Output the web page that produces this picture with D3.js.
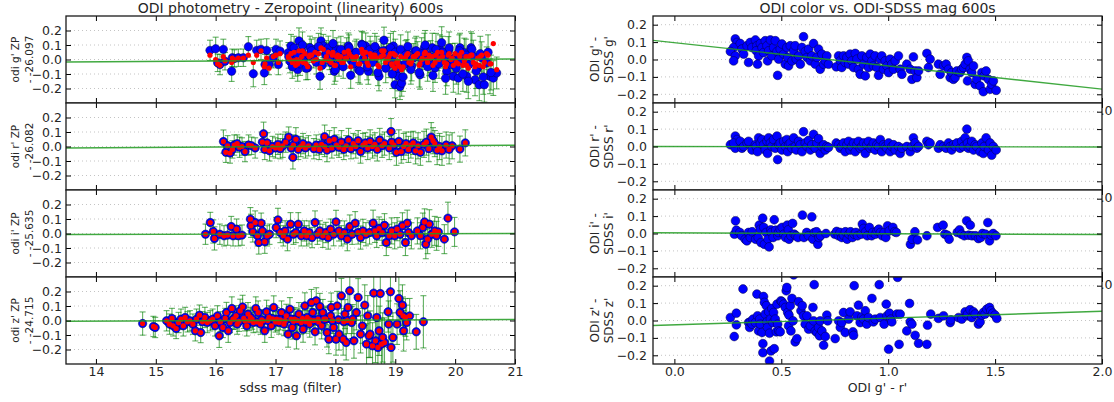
<!DOCTYPE html>
<html>
<head>
<meta charset="utf-8">
<script src="https://cdn.jsdelivr.net/npm/d3@7"></script>
<style>
  html, body { margin: 0; padding: 0; background: #fff; }
  svg { display: block; }
  text { font-family: "DejaVu Sans", sans-serif; }
</style>
</head>
<body>
<svg id="chart" width="1114" height="402"></svg>
<script>
// ---------------- data ----------------
const bands = ["g'", "r'", "i'", "z'"];
const zpOffsets = ["-26.097", "-26.082", "-25.635", "-24.715"];
const magTicks = [14, 15, 16, 17, 18, 19, 20, 21];
const colorTicks = [0.0, 0.5, 1.0, 1.5, 2.0];
const residTicks = [-0.2, -0.1, 0.0, 0.1, 0.2];

// linear fits (value at left and right edge of each axis)
const zpFitStart = [-0.017, -0.010, -0.007, -0.005];
const zpFitEnd = [0.004, 0.009, 0.000, 0.007];
const colorFitStart = [0.110, 0.000, 0.004, -0.029];
const colorFitEnd = [-0.170, -0.003, -0.006, 0.053];

// g' zeropoint residuals vs sdss mag
const gMag = [15.905,16.000,16.033,16.128,16.072,16.156,16.267,16.278,16.312,16.379,
16.462,16.546,16.629,16.685,16.757,16.813,16.824,16.852,16.891,16.963,
17.008,17.047,17.075,17.214,17.242,17.258,17.297,17.336,17.370,17.392,
17.437,17.464,17.492,17.537,17.576,17.631,17.659,17.743,17.759,17.798,
17.837,17.882,17.927,17.949,17.982,18.021,18.060,18.105,18.149,18.188,
18.216,18.255,18.272,18.327,18.383,18.439,18.467,18.506,18.550,18.595,
18.634,18.689,18.728,18.773,18.812,18.856,18.895,18.940,18.968,18.996,
19.023,19.051,19.079,19.107,19.151,19.190,19.229,19.274,19.330,19.374,
19.413,19.452,19.486,19.525,19.563,19.619,19.664,19.708,19.747,19.775,
19.820,19.859,19.886,19.931,19.970,19.998,20.053,20.081,20.109,20.154,
20.193,20.232,20.265,20.304,20.332,20.376,20.404,20.443,20.488,20.527,
20.582,20.638,20.694,
17.22,17.28,17.31,17.35,17.41,17.45,17.51,17.56,17.60,17.68,
17.72,17.78,17.85,17.90,17.96,18.00,18.04,18.09,18.13,18.17,
18.23,18.30,18.35,18.41,18.45,18.49,18.53,18.58,18.62,18.66,
18.71,18.76,18.80,18.84,18.88,18.92,18.95,19.00,19.04,19.09,
19.13,19.17,19.21,19.26,19.30,19.35,19.40,19.44,19.50,19.54,
19.59,19.63,19.68,19.73,19.79,19.84,19.90,19.95,20.02,20.07,
20.13,20.18,20.22,20.28,20.35,20.42,20.47,20.55,20.60];
const gZp = [0.063,0.074,-0.023,0.070,-0.035,-0.012,-0.081,0.012,0.007,0.012,
0.012,0.088,-0.098,0.063,0.070,-0.093,-0.035,0.063,-0.035,0.012,
0.070,-0.035,0.058,0.047,-0.012,0.093,0.023,-0.035,-0.070,0.128,
0.058,0.000,0.023,-0.058,0.081,0.012,0.070,-0.116,0.128,0.093,
0.035,0.081,-0.023,0.012,-0.081,0.070,-0.035,0.012,0.035,0.070,
0.093,-0.109,-0.012,0.047,-0.070,0.105,0.000,0.093,-0.081,0.047,
-0.012,0.070,-0.116,0.035,0.133,0.063,-0.035,0.012,0.093,-0.174,
-0.070,-0.116,-0.186,-0.163,-0.035,0.047,0.012,-0.047,0.058,0.023,
-0.105,-0.023,0.081,0.035,-0.012,0.081,-0.058,0.023,0.070,0.116,
0.000,-0.081,0.058,-0.035,-0.116,0.012,-0.128,0.081,-0.012,0.047,
-0.116,-0.035,0.081,0.023,-0.140,-0.058,-0.174,0.012,-0.174,-0.023,
-0.116,-0.128,-0.093,
0.02,-0.05,0.08,0.04,-0.03,0.10,-0.06,0.03,0.06,-0.02,
0.09,-0.04,0.05,0.01,0.11,-0.07,0.04,0.07,-0.05,0.02,
0.08,-0.03,0.05,-0.08,0.10,0.03,-0.05,0.07,-0.02,0.09,
-0.09,0.04,0.06,-0.06,0.02,0.08,-0.10,0.05,-0.03,0.07,
-0.12,0.03,0.09,-0.07,0.01,0.06,-0.09,0.04,0.10,-0.05,
0.02,-0.11,0.07,-0.03,0.05,-0.13,0.08,0.00,-0.06,0.06,
-0.10,0.03,-0.15,0.07,-0.08,0.04,-0.12,0.05,-0.09];
const gZpCorr = [0.03,0.00,-0.03,0.02,-0.04,-0.01,-0.02,0.01,0.00,0.01,
0.01,0.03,-0.02,0.03,0.06,-0.05,-0.03,0.01,-0.06,0.02,
0.03,-0.02,0.04,0.02,0.00,0.04,-0.01,-0.04,-0.03,0.06,
0.02,-0.02,0.04,-0.05,0.03,-0.01,0.05,-0.06,0.08,0.07,
0.00,0.05,-0.02,0.03,-0.04,0.02,0.00,-0.02,0.05,0.01,
0.06,-0.05,0.02,0.00,-0.03,0.07,0.04,0.05,-0.04,0.02,
0.03,0.01,-0.05,0.06,0.06,0.00,0.02,-0.03,0.04,-0.06,
-0.02,-0.04,-0.05,-0.07,0.01,0.03,-0.02,-0.01,0.02,0.04,
-0.03,0.01,0.04,0.00,0.03,0.02,-0.02,0.05,0.01,0.05,
-0.02,-0.03,0.03,0.00,-0.04,0.04,-0.03,0.02,0.05,-0.01,
-0.04,0.02,0.03,-0.02,-0.05,0.01,-0.04,0.03,-0.02,0.04,
-0.03,0.11,-0.07,
0.01,-0.02,0.05,0.00,-0.01,0.06,-0.03,0.02,0.03,0.00,
0.04,-0.02,0.02,-0.01,0.05,-0.04,0.03,0.02,-0.02,0.01,
0.04,0.00,0.02,-0.03,0.05,0.01,-0.02,0.04,0.01,0.03,
-0.04,0.02,0.03,-0.02,0.00,0.04,-0.04,0.03,-0.01,0.02,
-0.05,0.01,0.04,-0.03,0.02,0.03,-0.04,0.00,0.05,-0.02,
0.01,-0.04,0.03,0.00,0.02,-0.05,0.04,0.01,-0.02,0.03,
-0.04,0.02,-0.06,0.03,-0.03,0.02,-0.05,0.03,-0.03];
const gErr = [0.07,0.08,0.06,0.07,0.07,0.06,0.07,0.06,0.06,0.06,
0.06,0.07,0.09,0.07,0.07,0.08,0.07,0.08,0.07,0.07,
0.07,0.07,0.07,0.07,0.08,0.08,0.08,0.08,0.08,0.09,
0.07,0.08,0.08,0.08,0.08,0.07,0.08,0.09,0.09,0.08,
0.08,0.08,0.08,0.08,0.09,0.08,0.08,0.08,0.08,0.08,
0.09,0.09,0.08,0.08,0.09,0.09,0.08,0.09,0.09,0.08,
0.09,0.09,0.10,0.09,0.09,0.09,0.09,0.09,0.10,0.09,
0.09,0.10,0.09,0.09,0.09,0.09,0.09,0.10,0.09,0.10,
0.10,0.10,0.10,0.09,0.10,0.10,0.10,0.10,0.10,0.11,
0.10,0.10,0.10,0.10,0.11,0.10,0.11,0.10,0.11,0.10,
0.11,0.11,0.11,0.11,0.11,0.11,0.11,0.11,0.12,0.11,
0.12,0.12,0.11,
0.08,0.08,0.08,0.08,0.08,0.09,0.08,0.08,0.08,0.08,
0.09,0.08,0.08,0.08,0.09,0.08,0.08,0.09,0.08,0.08,
0.09,0.09,0.09,0.09,0.09,0.09,0.09,0.09,0.09,0.09,
0.09,0.10,0.09,0.10,0.09,0.10,0.10,0.09,0.10,0.10,
0.10,0.10,0.10,0.10,0.10,0.10,0.10,0.11,0.10,0.10,
0.11,0.11,0.11,0.10,0.11,0.11,0.11,0.11,0.11,0.11,
0.12,0.11,0.12,0.11,0.12,0.12,0.12,0.12,0.12];

// r' zeropoint residuals
const rMag = [16.13,16.17,16.20,16.24,16.28,16.31,16.36,16.40,16.44,16.49,
16.55,16.60,16.66,16.80,16.78,16.82,16.86,16.90,16.95,17.00,
17.04,17.08,17.12,17.17,17.29,17.22,17.26,17.30,17.34,17.38,
17.42,17.46,17.50,17.55,17.82,17.64,17.68,17.73,17.77,17.82,
17.86,17.90,17.94,17.98,18.02,18.06,18.10,18.14,18.18,18.22,
18.26,18.30,18.34,18.38,18.42,18.46,18.50,18.54,18.58,18.62,
18.66,18.70,18.74,18.78,18.82,18.93,18.90,18.94,18.98,19.02,
19.06,19.10,19.14,19.18,19.22,19.26,19.30,19.34,19.38,19.42,
19.48,19.52,19.56,19.60,19.63,19.66,19.70,19.74,19.78,19.85,
19.90,19.95,20.08,20.17];
const rZp = [0.034,-0.040,0.005,-0.045,-0.020,0.010,0.020,-0.005,0.000,-0.035,
0.010,0.005,-0.010,0.088,0.030,-0.020,0.025,-0.030,0.000,-0.010,
0.015,-0.015,0.005,0.030,-0.075,0.065,-0.010,0.010,0.050,-0.020,
0.000,0.020,-0.010,0.005,0.068,-0.015,0.010,-0.020,0.015,0.000,
-0.025,0.040,-0.010,0.050,0.010,-0.005,0.030,-0.020,0.005,0.045,
-0.015,0.020,0.000,0.040,-0.035,0.010,0.025,-0.010,0.035,0.000,
0.015,-0.020,0.045,0.005,0.020,0.103,-0.010,0.030,0.010,-0.040,
0.035,-0.035,0.000,0.020,-0.020,0.010,0.025,-0.030,0.005,-0.040,
0.015,0.030,-0.015,0.065,0.040,0.020,-0.025,0.000,-0.030,0.010,
-0.020,0.005,-0.018,0.025];
const rErr = [0.08,0.07,0.07,0.07,0.06,0.07,0.06,0.07,0.06,0.07,
0.07,0.06,0.07,0.08,0.07,0.07,0.07,0.07,0.07,0.07,
0.07,0.07,0.08,0.07,0.08,0.07,0.07,0.07,0.08,0.07,
0.07,0.07,0.07,0.07,0.08,0.07,0.07,0.07,0.07,0.07,
0.08,0.07,0.07,0.08,0.07,0.07,0.08,0.07,0.07,0.08,
0.07,0.07,0.08,0.07,0.08,0.08,0.07,0.08,0.08,0.08,
0.08,0.08,0.08,0.08,0.08,0.09,0.08,0.08,0.08,0.09,
0.08,0.08,0.09,0.08,0.09,0.09,0.08,0.09,0.09,0.09,
0.09,0.09,0.09,0.10,0.09,0.09,0.10,0.09,0.10,0.09,
0.10,0.09,0.09,0.09];

// i' zeropoint residuals
const iMag = [15.83,15.91,15.96,15.98,16.07,16.14,16.20,16.26,16.29,16.35,
16.38,16.44,16.58,16.59,16.62,16.66,16.70,16.72,16.76,16.78,
16.82,16.86,16.90,17.01,17.04,17.08,17.13,17.16,17.20,17.25,
17.30,17.34,17.38,17.43,17.48,17.52,17.56,17.61,17.66,17.70,
17.74,17.79,17.84,17.88,17.92,17.97,18.01,18.06,18.10,18.15,
18.20,18.24,18.28,18.33,18.38,18.42,18.46,18.51,18.57,18.63,
18.66,18.69,18.73,18.78,18.82,18.85,18.90,18.94,18.99,19.03,
19.08,19.12,19.17,19.20,19.22,19.27,19.37,19.42,19.46,19.49,
19.51,19.54,19.57,19.61,19.66,19.69,19.72,19.82,19.88,19.99];
const iZp = [-0.005,0.076,0.014,-0.034,-0.005,-0.016,-0.011,0.048,-0.016,0.030,
-0.016,-0.011,0.099,0.053,0.011,0.076,-0.016,-0.062,0.071,0.018,
-0.057,-0.016,-0.005,0.041,0.094,0.007,-0.016,0.018,-0.039,0.064,
-0.005,0.007,0.064,-0.016,0.018,-0.016,0.007,-0.028,0.076,-0.005,
0.018,-0.016,0.007,-0.028,0.030,-0.005,0.080,0.018,-0.016,0.007,
-0.039,0.048,-0.005,0.071,0.007,-0.028,0.018,-0.005,0.007,0.071,
0.018,-0.016,0.034,0.007,0.057,-0.062,-0.016,0.018,-0.016,0.030,
-0.005,0.053,-0.062,0.071,0.007,-0.016,0.018,-0.016,0.041,0.080,
-0.074,-0.039,0.064,-0.005,0.018,-0.016,0.011,-0.039,0.106,0.011];
const iErr = [0.07,0.07,0.08,0.08,0.07,0.07,0.07,0.07,0.07,0.07,
0.07,0.07,0.08,0.08,0.07,0.08,0.07,0.08,0.07,0.07,
0.08,0.07,0.07,0.07,0.08,0.07,0.07,0.07,0.08,0.08,
0.07,0.07,0.08,0.07,0.07,0.07,0.08,0.07,0.08,0.07,
0.07,0.08,0.07,0.08,0.07,0.08,0.08,0.07,0.07,0.08,
0.08,0.08,0.07,0.08,0.08,0.08,0.08,0.08,0.08,0.09,
0.08,0.08,0.08,0.09,0.08,0.09,0.08,0.09,0.09,0.08,
0.09,0.09,0.09,0.09,0.09,0.09,0.09,0.09,0.10,0.09,
0.10,0.10,0.10,0.09,0.10,0.10,0.10,0.10,0.11,0.10];

// z' zeropoint residuals
const zMag = [14.78,14.96,14.99,15.18,15.23,15.27,15.29,15.34,15.38,15.42,
15.46,15.49,15.53,15.57,15.62,15.66,15.68,15.73,15.75,15.78,
15.82,15.86,15.91,15.95,15.99,16.03,16.06,16.08,16.12,16.16,
16.18,16.21,16.24,16.27,16.29,16.34,16.36,16.41,16.45,16.49,
16.52,16.54,16.58,16.63,16.67,16.71,16.75,16.79,16.82,16.85,
16.89,16.93,16.97,17.02,17.06,17.10,17.14,17.18,17.21,17.24,
17.28,17.32,17.35,17.39,17.43,17.46,17.49,17.53,17.57,17.60,
17.62,17.66,17.68,17.71,17.74,17.77,17.79,17.84,17.86,17.89,
17.92,17.93,17.97,18.01,18.03,18.06,18.10,18.13,18.16,18.18,
18.21,18.24,18.27,18.31,18.35,18.38,18.42,18.45,18.49,18.52,
18.54,18.56,18.58,18.62,18.64,18.67,18.69,18.71,18.73,18.75,
18.77,18.79,18.82,18.88,18.89,18.92,18.93,18.96,19.03,19.06,
19.08,19.12,19.13,19.14,19.17,19.19,19.24,19.35,19.47,
16.31,16.39,16.47,16.56,16.61,16.69,16.77,16.87,16.95,17.00,
17.08,17.16,17.26,17.30,17.37,17.45,17.51,17.58,17.64,17.72,
17.81,17.95,18.05,18.14,18.20,18.29];
const zZp = [-0.021,-0.041,-0.048,-0.002,-0.025,0.014,-0.037,-0.055,-0.014,0.009,
-0.037,0.021,-0.009,-0.002,-0.025,-0.071,0.009,0.037,-0.083,-0.009,
0.021,-0.014,-0.002,0.009,-0.037,0.032,-0.106,-0.009,-0.048,0.014,
0.055,-0.071,-0.014,0.083,0.009,0.032,-0.025,0.067,0.094,-0.002,
-0.037,0.044,0.021,-0.014,0.083,0.055,-0.025,-0.002,-0.071,0.060,
0.021,-0.037,0.090,0.009,-0.014,0.055,-0.025,0.032,-0.094,0.078,
-0.048,0.009,-0.106,0.044,-0.014,-0.060,0.101,0.021,-0.025,0.124,
0.055,-0.078,0.136,0.009,0.097,-0.037,0.055,0.009,-0.083,-0.129,
0.032,0.090,-0.048,-0.129,0.101,-0.094,0.170,-0.129,0.044,-0.152,
0.090,0.205,-0.014,-0.140,0.055,0.159,-0.094,-0.037,0.106,-0.163,
0.032,-0.106,-0.094,-0.175,0.189,-0.140,0.021,-0.186,-0.071,0.186,
-0.163,-0.117,-0.152,0.060,-0.025,0.198,-0.186,-0.117,-0.025,0.152,
0.055,0.106,0.032,-0.071,0.021,-0.014,0.032,-0.078,-0.009,
0.010,-0.005,0.015,0.000,0.010,-0.010,0.005,0.000,0.012,-0.010,
0.005,0.000,0.010,-0.005,0.000,0.015,-0.008,0.005,0.000,-0.010,
0.010,0.000,0.005,-0.008,0.000,0.010];
const zErr = [0.08,0.07,0.07,0.07,0.07,0.07,0.07,0.07,0.07,0.07,
0.07,0.07,0.07,0.07,0.07,0.07,0.07,0.07,0.07,0.07,
0.07,0.07,0.07,0.07,0.07,0.07,0.08,0.07,0.07,0.07,
0.07,0.08,0.07,0.08,0.07,0.07,0.07,0.08,0.08,0.07,
0.07,0.08,0.07,0.07,0.08,0.08,0.07,0.07,0.08,0.08,
0.08,0.08,0.08,0.08,0.08,0.08,0.08,0.08,0.09,0.08,
0.08,0.08,0.09,0.08,0.08,0.09,0.09,0.08,0.09,0.09,
0.09,0.09,0.09,0.09,0.09,0.09,0.09,0.09,0.10,0.10,
0.10,0.10,0.10,0.11,0.10,0.11,0.12,0.11,0.10,0.12,
0.11,0.12,0.11,0.12,0.12,0.13,0.13,0.12,0.14,0.14,
0.14,0.15,0.16,0.16,0.17,0.15,0.17,0.18,0.17,0.18,
0.18,0.17,0.17,0.14,0.16,0.17,0.19,0.17,0.14,0.16,
0.15,0.14,0.13,0.14,0.13,0.12,0.12,0.12,0.18,
0.07,0.07,0.07,0.07,0.07,0.07,0.07,0.07,0.07,0.07,
0.07,0.07,0.08,0.08,0.08,0.08,0.08,0.08,0.08,0.08,
0.08,0.09,0.09,0.09,0.09,0.10];

// ODI g'-r' colour vs ODI-SDSS difference
const colorGR = [0.285,0.293,0.277,0.262,0.285,0.277,0.308,0.316,0.324,0.340,
0.355,0.363,0.347,0.379,0.386,0.383,0.394,0.389,0.402,0.410,
0.417,0.425,0.433,0.441,0.436,0.449,0.456,0.464,0.472,0.480,
0.483,0.488,0.495,0.503,0.511,0.519,0.526,0.530,0.534,0.542,
0.550,0.558,0.565,0.570,0.581,0.589,0.604,0.597,0.612,0.620,
0.628,0.636,0.643,0.651,0.659,0.667,0.674,0.682,0.690,0.698,
0.706,0.713,0.721,0.757,0.768,0.776,0.783,0.791,0.799,0.807,
0.815,0.822,0.830,0.838,0.846,0.854,0.861,0.869,0.877,0.885,
0.893,0.900,0.908,0.916,0.924,0.931,0.939,0.947,0.955,0.963,
0.970,0.978,0.986,0.994,1.002,1.009,1.017,1.025,1.033,1.048,
1.056,1.064,1.087,1.103,1.111,1.118,1.126,1.134,1.142,1.181,
1.188,1.196,1.235,1.243,1.259,1.271,1.282,1.290,1.297,1.305,
1.313,1.321,1.336,1.344,1.352,1.360,1.368,1.375,1.371,1.383,
1.391,1.399,1.407,1.414,1.430,1.438,1.445,1.449,1.458,1.469,
1.477,1.484,1.492,1.505];
const gDiff = [0.118,0.098,0.069,0.046,0.021,-0.008,0.092,0.060,0.031,0.079,
0.098,0.069,-0.017,0.112,0.079,0.050,0.021,-0.027,0.092,0.069,
0.040,0.108,0.079,0.050,-0.008,0.112,0.021,0.069,0.108,0.046,
-0.091,0.002,0.060,0.089,0.031,-0.027,0.069,0.012,-0.037,0.079,
-0.008,0.050,0.079,0.002,0.021,-0.027,0.131,0.069,0.046,0.012,
0.060,-0.008,0.021,0.092,-0.027,0.012,0.060,-0.056,0.031,-0.027,
-0.008,0.021,-0.027,-0.042,0.021,-0.008,-0.046,0.021,-0.017,0.012,
-0.027,0.031,-0.008,-0.046,0.035,0.002,-0.056,-0.085,0.021,-0.027,
-0.094,0.012,-0.046,0.031,-0.008,-0.037,0.021,-0.046,-0.091,0.002,
0.021,-0.056,-0.008,-0.037,-0.075,0.002,-0.027,-0.056,-0.008,0.021,
-0.056,-0.085,-0.027,-0.056,-0.114,0.015,-0.066,-0.104,-0.066,0.035,
-0.046,0.002,-0.027,-0.085,-0.037,-0.027,-0.056,-0.104,-0.075,-0.114,
-0.104,-0.066,-0.075,-0.056,-0.046,-0.027,0.012,-0.008,-0.123,-0.056,
-0.075,-0.037,-0.143,-0.114,-0.152,-0.075,-0.185,-0.094,-0.066,-0.114,
-0.171,-0.143,-0.123,-0.177];
const rDiff = [0.06,0.04,0.01,0.01,-0.01,0.02,0.03,-0.01,0.00,0.02,
0.01,-0.02,0.03,0.01,-0.01,0.00,0.05,-0.03,0.02,0.04,
0.01,-0.02,0.03,0.05,-0.04,0.02,0.00,0.04,-0.01,0.06,
-0.075,0.01,0.02,-0.02,0.03,0.00,0.04,-0.03,0.01,0.02,
-0.01,0.05,0.00,-0.02,0.03,0.01,0.085,-0.03,0.02,0.00,
0.035,-0.02,0.01,0.07,-0.01,0.02,0.045,-0.04,0.00,0.01,
-0.02,0.00,-0.005,0.02,0.01,-0.01,0.00,0.02,-0.03,0.01,
0.03,-0.02,0.00,0.02,-0.03,0.01,0.03,-0.01,0.00,0.02,
-0.04,0.01,0.03,-0.01,0.00,0.02,-0.02,0.01,0.00,0.04,
-0.03,0.01,0.00,-0.01,0.02,-0.03,0.00,0.01,-0.02,0.00,
-0.04,-0.01,0.00,-0.03,0.00,0.05,0.02,-0.01,0.00,0.03,
0.01,0.02,-0.01,0.01,0.00,-0.01,0.02,0.00,-0.02,0.01,
0.00,0.02,-0.01,0.03,0.00,0.05,0.10,-0.01,0.02,0.00,
0.03,-0.02,0.01,0.00,-0.03,0.02,-0.04,0.00,0.05,-0.02,
0.02,-0.05,0.00,-0.02];
const iColor = [0.281,0.286,0.290,0.306,0.314,0.331,0.339,0.347,0.355,0.364,
0.380,0.392,0.397,0.402,0.405,0.413,0.418,0.421,0.429,0.438,
0.443,0.451,0.454,0.462,0.467,0.474,0.484,0.487,0.495,0.504,
0.512,0.520,0.528,0.533,0.536,0.545,0.553,0.561,0.569,0.578,
0.599,0.606,0.619,0.627,0.643,0.648,0.655,0.665,0.671,0.676,
0.684,0.709,0.750,0.759,0.767,0.775,0.783,0.791,0.800,0.808,
0.816,0.824,0.833,0.841,0.849,0.857,0.874,0.879,0.885,0.895,
0.902,0.912,0.923,0.928,0.940,0.948,0.956,0.964,0.972,0.981,
0.989,0.997,1.005,1.022,1.030,1.038,1.104,1.112,1.125,1.137,
1.181,1.231,1.257,1.265,1.277,1.285,1.323,1.334,1.343,1.356,
1.367,1.376,1.384,1.392,1.408,1.422,1.433,1.441,1.455,1.466,
1.474,1.482,1.491,1.504];
const iDiff = [-0.004,0.073,0.019,0.006,-0.013,-0.033,-0.042,0.006,-0.023,0.010,
-0.033,-0.023,0.048,0.025,-0.052,0.088,0.035,-0.062,0.006,-0.033,
-0.077,0.021,0.006,-0.023,0.079,0.019,-0.013,0.006,0.025,0.035,
-0.004,-0.023,0.048,0.021,-0.033,-0.013,0.058,-0.004,-0.013,-0.023,
0.106,-0.023,0.006,-0.013,0.096,-0.033,0.006,0.010,-0.062,-0.023,
-0.013,0.000,-0.004,0.012,-0.013,0.006,-0.023,-0.010,0.010,-0.033,
-0.004,0.010,-0.023,-0.004,0.006,-0.013,-0.004,0.054,0.029,0.010,
-0.013,0.035,-0.013,0.006,-0.004,0.015,0.025,0.006,-0.013,0.006,
-0.023,0.044,0.015,0.035,0.010,0.006,-0.062,-0.033,0.010,-0.037,
-0.013,0.035,0.048,-0.004,-0.010,-0.033,0.006,0.021,-0.004,-0.013,
0.073,-0.010,0.048,-0.013,-0.013,-0.029,-0.023,0.000,-0.004,0.063,
-0.042,-0.010,0.000,-0.013];
const zColor = [0.262,0.290,0.280,0.290,0.321,0.347,0.352,0.355,0.363,0.368,
0.379,0.386,0.389,0.394,0.399,0.402,0.410,0.414,0.414,0.417,
0.421,0.425,0.430,0.433,0.436,0.441,0.445,0.445,0.449,0.452,
0.456,0.461,0.464,0.467,0.472,0.477,0.480,0.483,0.488,0.495,
0.498,0.503,0.511,0.519,0.523,0.526,0.530,0.534,0.536,0.542,
0.545,0.550,0.555,0.558,0.565,0.573,0.581,0.592,0.598,0.604,
0.612,0.620,0.628,0.636,0.648,0.651,0.654,0.659,0.667,0.674,
0.679,0.682,0.690,0.698,0.706,0.713,0.717,0.752,0.768,0.776,
0.783,0.791,0.799,0.815,0.822,0.835,0.838,0.841,0.854,0.861,
0.869,0.877,0.885,0.893,0.900,0.908,0.924,0.931,0.939,0.958,
0.963,0.981,0.991,0.994,1.002,1.006,1.012,1.017,1.041,1.044,
1.051,1.056,1.087,1.100,1.103,1.111,1.126,1.142,1.181,1.184,
1.199,1.235,1.259,1.290,1.293,1.329,1.344,1.360,1.368,1.371,
1.383,1.391,1.399,1.407,1.422,1.430,1.438,1.445,1.453,1.461,
1.474,1.480,1.489,1.500,1.508];
const zDiff = [0.017,0.042,-0.092,-0.025,0.181,-0.012,-0.040,-0.008,-0.021,0.008,
-0.012,0.152,0.027,-0.060,0.008,-0.021,-0.069,-0.133,-0.185,0.138,
0.104,0.037,0.085,-0.008,-0.040,0.050,-0.073,-0.233,0.008,-0.175,
0.069,-0.012,0.046,-0.162,0.008,-0.065,0.094,-0.021,-0.060,-0.065,
0.113,0.108,0.094,0.075,0.171,0.190,0.046,-0.031,0.031,0.085,
-0.060,0.127,-0.002,0.262,-0.123,-0.104,0.108,0.056,0.085,0.027,
-0.021,0.027,-0.050,-0.031,0.075,-0.002,0.206,-0.060,-0.069,-0.040,
-0.088,-0.002,-0.060,-0.142,-0.092,0.031,-0.002,-0.104,-0.002,-0.040,
-0.012,0.046,-0.069,0.008,0.050,-0.065,-0.085,0.200,0.027,0.088,
-0.012,0.021,0.008,0.056,-0.021,0.017,0.127,-0.008,0.008,0.206,
0.017,-0.021,0.094,0.027,-0.165,0.042,0.008,-0.008,0.037,0.248,
-0.137,0.037,-0.060,0.098,-0.008,-0.021,-0.085,-0.131,-0.137,-0.027,
0.037,0.012,0.027,-0.012,0.004,0.017,0.008,0.050,0.027,0.037,
0.062,0.017,0.050,0.037,-0.021,-0.008,0.031,0.046,0.037,0.065,
0.075,0.056,0.042,0.031,0.012];

// ---------------- layout ----------------
const svg = d3.select("#chart");
const panelTop = 16, panelH = 87;
const xMag = d3.scaleLinear().domain([13.5, 21]).range([66, 515]);
const xCol = d3.scaleLinear().domain([-0.1, 2.0]).range([653, 1102]);
const tickFmt = d3.format(".1f");
const defs = svg.append("defs");

const zpSets = [
  { mag: gMag, blue: gZp, red: gZpCorr, err: gErr },
  { mag: rMag, blue: rZp, red: rZp, err: rErr },
  { mag: iMag, blue: iZp, red: iZp, err: iErr },
  { mag: zMag, blue: zZp, red: zZp, err: zErr }
];
const colorSets = [
  { x: colorGR, y: gDiff },
  { x: colorGR, y: rDiff },
  { x: iColor, y: iDiff },
  { x: zColor, y: zDiff }
];

function styleAxis(g, size) {
  g.select(".domain").remove();
  g.selectAll(".tick line").attr("stroke", "#000").attr("stroke-width", 1);
  g.selectAll(".tick text").attr("font-family", "DejaVu Sans, sans-serif")
    .attr("font-size", size).attr("fill", "#262626");
}

function frame(side, i, x, y) {
  const [xa, xb] = x.range();
  const y0 = panelTop + i * panelH;
  const g = svg.append("g");
  g.append("rect").attr("x", xa).attr("y", y0).attr("width", xb - xa).attr("height", panelH)
    .attr("fill", "#fff");
  // horizontal grid
  g.selectAll("line.grid").data(residTicks).join("line")
    .attr("x1", xa).attr("x2", xb)
    .attr("y1", d => y(d)).attr("y2", d => y(d))
    .attr("stroke", "#b5b5b5").attr("stroke-width", 0.8).attr("stroke-dasharray", "1,3");
  const cid = `clip-${side}-${i}`;
  defs.append("clipPath").attr("id", cid).append("rect")
    .attr("x", xa).attr("y", y0).attr("width", xb - xa).attr("height", panelH);
  const body = g.append("g").attr("clip-path", `url(#${cid})`);
  return { g, body, xa, xb, y0 };
}

function axes(p, x, y, side, showXLabels) {
  const { g, xa, xb, y0 } = p;
  const xt = side === "L" ? magTicks : colorTicks;
  const xf = side === "L" ? d3.format("d") : tickFmt;
  const ax = g.append("g").attr("transform", `translate(0,${y0 + panelH})`)
    .call(d3.axisBottom(x).tickValues(xt).tickSize(-5).tickSizeOuter(0).tickPadding(3)
      .tickFormat(showXLabels ? xf : ""));
  styleAxis(ax, 12.5);
  const at = g.append("g").attr("transform", `translate(0,${y0})`)
    .call(d3.axisTop(x).tickValues(xt).tickSize(-5).tickSizeOuter(0).tickFormat(""));
  styleAxis(at, 12);
  const al = g.append("g").attr("transform", `translate(${xa},0)`)
    .call(d3.axisLeft(y).tickValues(residTicks).tickSize(-5).tickSizeOuter(0)
      .tickPadding(side === "L" ? 4 : 6).tickFormat(tickFmt));
  styleAxis(al, 12.5);
  const ar = g.append("g").attr("transform", `translate(${xb},0)`)
    .call(d3.axisRight(y).tickValues(residTicks).tickSize(-5).tickSizeOuter(0).tickFormat(""));
  styleAxis(ar, 12);
  g.append("rect").attr("x", xa).attr("y", y0).attr("width", xb - xa).attr("height", panelH)
    .attr("fill", "none").attr("stroke", "#1a1a1a").attr("stroke-width", 1.3);
}

// ---------- left column: zeropoint residual vs magnitude ----------
zpSets.forEach((s, i) => {
  const y0 = panelTop + i * panelH;
  const y = d3.scaleLinear().domain([-0.3, 0.3]).range([y0 + panelH, y0]);
  const p = frame("L", i, xMag, y);
  const idx = d3.range(s.mag.length);
  const eb = p.body.append("g").attr("stroke", "#008000").attr("stroke-opacity", 0.62)
    .attr("stroke-width", 1.1);
  idx.forEach(k => {
    const cx = xMag(s.mag[k]);
    const lo = y(s.blue[k] - s.err[k]), hi = y(s.blue[k] + s.err[k]);
    eb.append("line").attr("x1", cx).attr("x2", cx).attr("y1", lo).attr("y2", hi);
    eb.append("line").attr("x1", cx - 3).attr("x2", cx + 3).attr("y1", lo).attr("y2", lo);
    eb.append("line").attr("x1", cx - 3).attr("x2", cx + 3).attr("y1", hi).attr("y2", hi);
  });
  p.body.append("g").selectAll("circle").data(idx).join("circle")
    .attr("cx", k => xMag(s.mag[k])).attr("cy", k => y(s.blue[k])).attr("r", 4.2)
    .attr("fill", "#0000ff").attr("stroke", "#000050").attr("stroke-width", 0.5);
  p.body.append("g").selectAll("circle").data(idx).join("circle")
    .attr("cx", k => xMag(s.mag[k])).attr("cy", k => y(s.red[k])).attr("r", 2.6)
    .attr("fill", "#ff0000");
  p.body.append("line")
    .attr("x1", xMag(13.5)).attr("x2", xMag(21))
    .attr("y1", y(zpFitStart[i])).attr("y2", y(zpFitEnd[i]))
    .attr("stroke", "#1f9a1f").attr("stroke-width", 1.4).attr("stroke-opacity", 0.85);
  axes(p, xMag, y, "L", i === 3);
  // y label
  const cy = y0 + panelH / 2;
  [[`odi ${bands[i]} ZP`, 15], [`- ${zpOffsets[i]}`, 29]].forEach(([t, lx]) => {
    svg.append("text").attr("transform", `translate(${lx},${cy}) rotate(-90)`)
      .attr("text-anchor", "middle").attr("dy", "0.35em")
      .attr("font-size", 10.5).attr("fill", "#262626").text(t);
  });
});

// ---------- right column: colour term ----------
colorSets.forEach((s, i) => {
  const y0 = panelTop + i * panelH;
  const y = d3.scaleLinear().domain([-0.25, 0.25]).range([y0 + panelH, y0]);
  const p = frame("R", i, xCol, y);
  const idx = d3.range(s.x.length);
  p.body.append("g").selectAll("circle").data(idx).join("circle")
    .attr("cx", k => xCol(s.x[k])).attr("cy", k => y(s.y[k])).attr("r", 4.4)
    .attr("fill", "#0000ff").attr("stroke", "#000040").attr("stroke-width", 0.5);
  p.body.append("line")
    .attr("x1", xCol(-0.1)).attr("x2", xCol(2.0))
    .attr("y1", y(colorFitStart[i])).attr("y2", y(colorFitEnd[i]))
    .attr("stroke", "#1f9a1f").attr("stroke-width", 1.4).attr("stroke-opacity", 0.85);
  axes(p, xCol, y, "R", true);
  const cy = y0 + panelH / 2;
  [[`ODI ${bands[i]} -`, 595], [`SDSS ${bands[i]}`, 609]].forEach(([t, lx]) => {
    svg.append("text").attr("transform", `translate(${lx},${cy}) rotate(-90)`)
      .attr("text-anchor", "middle").attr("dy", "0.35em")
      .attr("font-size", 12).attr("fill", "#262626").text(t);
  });
});

// titles and axis labels
svg.append("text").attr("x", 290.5).attr("y", 12.5).attr("text-anchor", "middle")
  .attr("font-size", 14).attr("fill", "#262626").text("ODI photometry - Zeropoint (linearity) 600s");
svg.append("text").attr("x", 877.5).attr("y", 12.5).attr("text-anchor", "middle")
  .attr("font-size", 14).attr("fill", "#262626").text("ODI color vs. ODI-SDSS mag 600s");
svg.append("text").attr("x", 290.5).attr("y", 392).attr("text-anchor", "middle")
  .attr("font-size", 12.5).attr("fill", "#262626").text("sdss mag (filter)");
svg.append("text").attr("x", 877.5).attr("y", 392).attr("text-anchor", "middle")
  .attr("font-size", 12.5).attr("fill", "#262626").text("ODI g' - r'");
</script>
</body>
</html>
